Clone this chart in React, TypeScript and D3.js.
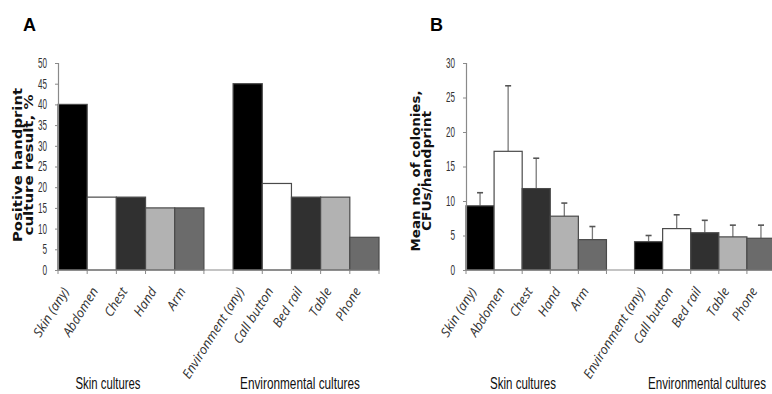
import React, { useEffect, useRef } from 'react';
import * as d3 from 'd3';

// categories (gap slot between the two groups)
const skinCats = ['Skin (any)', 'Abdomen', 'Chest', 'Hand', 'Arm'];
const envCats = ['Environment (any)', 'Call button', 'Bed rail', 'Table', 'Phone'];
const slots = [...skinCats, '__gap', ...envCats];
const fills = ['#000000', '#ffffff', '#303030', '#b2b2b2', '#6b6b6b'];

// panel A: positive handprint culture result, %
const positiveSkin = [40, 17.6, 17.6, 15, 15];
const positiveEnv = [45, 20.9, 17.6, 17.6, 7.9];

// panel B: mean CFUs per handprint, and top of error bar
const meanSkin = [9.3, 17.2, 11.8, 7.8, 4.4];
const meanEnv = [4.1, 6.0, 5.4, 4.8, 4.6];
const errTopSkin = [11.2, 26.7, 16.2, 9.7, 6.3];
const errTopEnv = [5.0, 8.0, 7.2, 6.5, 6.5];

const ticksA = [0, 5, 10, 15, 20, 25, 30, 35, 40, 45, 50];
const ticksB = [0, 5, 10, 15, 20, 25, 30];

const sans = '"Liberation Sans", Arial, sans-serif';

// squeeze a text horizontally to a target width (the source font is condensed)
function squeeze(sel, target, cx, cy) {
    const len = sel.node().getComputedTextLength() || target;
    sel.attr('transform', `translate(${cx},${cy}) scale(${target / len},1)`);
}

function drawPanel(svg, opts) {
    const { x0, x1, yMax, ticks, values, errTop, letter, letterX, titleLines, titleX, titleY, titleLens, groupCenters, groupLens } = opts;
    const y0 = 270, yTop = 63;

    const x = d3.scaleBand().domain(slots).range([x0, x1]).padding(0);
    const y = d3.scaleLinear().domain([0, yMax]).range([y0, yTop]);
    const g = svg.append('g');

    const data = slots
        .map((s, i) => ({ s, i }))
        .filter(d => d.s !== '__gap')
        .map(d => {
            const grp = d.i < 5 ? 0 : 1;
            const k = d.i < 5 ? d.i : d.i - 6;
            return { name: d.s, v: values[grp][k], e: errTop ? errTop[grp][k] : null, fill: fills[k] };
        });

    // error bars go behind bars
    if (errTop) {
        data.forEach(d => {
            const cx = x(d.name) + x.bandwidth() / 2;
            g.append('line').attr('x1', cx).attr('x2', cx).attr('y1', y(d.v)).attr('y2', y(d.e))
                .attr('stroke', '#7a7a7a').attr('stroke-width', 1.3);
            g.append('line').attr('x1', cx - 3).attr('x2', cx + 3).attr('y1', y(d.e)).attr('y2', y(d.e))
                .attr('stroke', '#555').attr('stroke-width', 1.6);
        });
    }

    g.selectAll('rect.bar').data(data).enter().append('rect')
        .attr('class', 'bar')
        .attr('x', d => x(d.name))
        .attr('y', d => y(d.v))
        .attr('width', x.bandwidth())
        .attr('height', d => y0 - y(d.v))
        .attr('fill', d => d.fill)
        .attr('stroke', '#4a4a4a')
        .attr('stroke-width', 1.2);

    // y axis
    const ya = g.append('g').attr('transform', `translate(${x0},0)`)
        .call(d3.axisLeft(y).tickValues(ticks).tickSize(3).tickPadding(8).tickFormat(d3.format('d')));
    ya.select('.domain').attr('stroke', '#8a8a8a').attr('stroke-width', 1.2);
    ya.selectAll('line').attr('stroke', '#8a8a8a');
    ya.selectAll('text')
        .attr('font-family', sans).attr('font-size', 14).attr('fill', '#333')
        .attr('lengthAdjust', 'spacingAndGlyphs')
        .attr('textLength', d => (d >= 10 ? 9 : 4.6));

    // x axis with ticks at band edges
    const edges = slots.map(s => x(s)).concat([x1]);
    g.append('line').attr('x1', x0).attr('x2', x1).attr('y1', y0).attr('y2', y0)
        .attr('stroke', '#8a8a8a').attr('stroke-width', 1.2);
    g.selectAll('line.xt').data(edges).enter().append('line')
        .attr('class', 'xt')
        .attr('x1', d => d).attr('x2', d => d).attr('y1', y0).attr('y2', y0 + 4)
        .attr('stroke', '#8a8a8a');

    // category labels
    g.selectAll('text.cat').data(data).enter().append('text')
        .attr('class', 'cat')
        .attr('transform', d => `translate(${x(d.name) + x.bandwidth() / 2 - 3},${y0 + 21}) rotate(-58)`)
        .attr('text-anchor', 'end')
        .attr('font-family', '"Open Sans", "Liberation Sans", sans-serif')
        .attr('font-style', 'italic')
        .attr('font-size', 13)
        .attr('fill', '#333')
        .text(d => d.name);

    // group labels
    ['Skin cultures', 'Environmental cultures'].forEach((t, i) => {
        const tx = g.append('text')
            .attr('text-anchor', 'middle')
            .attr('font-family', sans)
            .attr('font-size', 16.5)
            .attr('fill', '#111')
            .text(t);
        squeeze(tx, groupLens[i], groupCenters[i], 389);
    });

    // y title, two lines
    titleLines.forEach((l, i) => {
        g.append('text')
            .attr('transform', `translate(${titleX + i * 11},${titleY + titleLens[i] / 2}) rotate(-90)`)
            .attr('font-family', '"DejaVu Sans", sans-serif')
            .attr('font-weight', 'bold')
            .attr('font-size', 11.5)
            .attr('fill', '#111')
            .attr('lengthAdjust', 'spacingAndGlyphs')
            .attr('textLength', titleLens[i])
            .text(l);
    });

    g.append('text').attr('x', letterX).attr('y', 31)
        .attr('font-family', sans)
        .attr('font-weight', 'bold')
        .attr('font-size', 18)
        .text(letter);
}

export default function App() {
    const ref = useRef(null);

    useEffect(() => {
        const svg = d3.select(ref.current);
        svg.selectAll('*').remove();

        drawPanel(svg, {
            x0: 58, x1: 379, yMax: 50, ticks: ticksA,
            values: [positiveSkin, positiveEnv], errTop: null,
            letter: 'A', letterX: 23,
            titleLines: ['Positive handprint', 'culture result, %'], titleX: 22, titleY: 165, titleLens: [154, 141],
            groupCenters: [108, 300], groupLens: [65, 120],
        });
        drawPanel(svg, {
            x0: 466, x1: 775, yMax: 30, ticks: ticksB,
            values: [meanSkin, meanEnv], errTop: [errTopSkin, errTopEnv],
            letter: 'B', letterX: 430,
            titleLines: ['Mean no. of colonies,', 'CFUs/handprint'], titleX: 420, titleY: 171, titleLens: [161, 120],
            groupCenters: [523, 707], groupLens: [66, 118],
        });
    }, []);

    return (
        <svg ref={ref} width={772} height={394}
            style={{ position: 'absolute', left: 0, top: 0, background: '#fff' }} />
    );
}
